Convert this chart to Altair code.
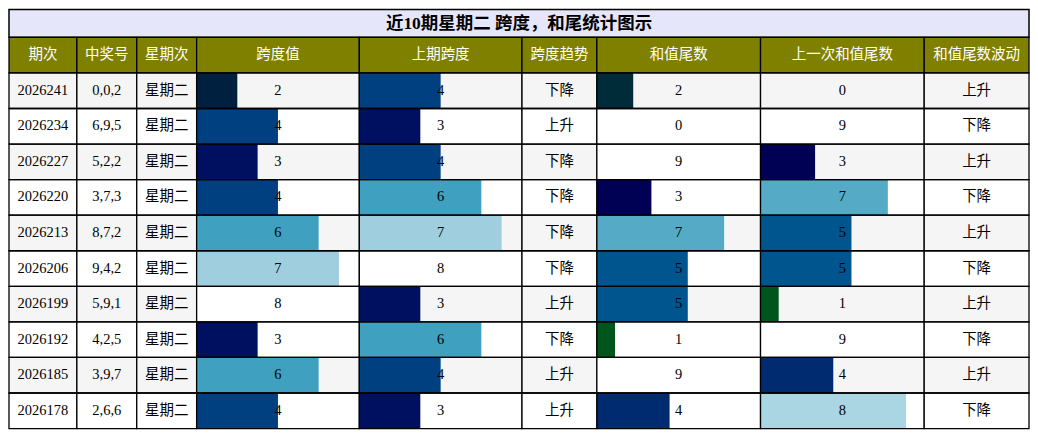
import altair as alt
import pandas as pd

title = "近10期星期二 跨度，和尾统计图示"
headers = ["期次", "中奖号", "星期次", "跨度值", "上期跨度", "跨度趋势", "和值尾数", "上一次和值尾数", "和值尾数波动"]
periods = ["2026241", "2026234", "2026227", "2026220", "2026213", "2026206", "2026199", "2026192", "2026185", "2026178"]
numbers = ["0,0,2", "6,9,5", "5,2,2", "3,7,3", "8,7,2", "9,4,2", "5,9,1", "4,2,5", "3,9,7", "2,6,6"]
weekdays = ["星期二"] * 10
span = [2, 4, 3, 4, 6, 7, 8, 3, 6, 4]
prev_span = [4, 3, 4, 6, 7, 8, 3, 6, 4, 3]
span_trend = ["下降", "上升", "下降", "下降", "下降", "下降", "上升", "下降", "上升", "上升"]
sum_tail = [2, 0, 9, 3, 7, 5, 5, 1, 9, 4]
prev_sum_tail = [0, 9, 3, 7, 5, 5, 1, 9, 4, 8]
sum_trend = ["上升", "下降", "上升", "下降", "上升", "下降", "上升", "下降", "上升", "下降"]

col_widths = [68, 60, 60, 163, 163, 75, 164, 164, 105]
TOTAL_W = sum(col_widths)
TITLE_H = 28
BODY_H = 392
FONT = "'Liberation Serif', 'Noto Sans CJK SC', serif"
CJK = "'Noto Sans CJK SC', 'Noto Sans', sans-serif"
OCEAN = ["#008000", "#000055", "#0080aa", "#ffffff"]

order = ["header"] + periods
yenc = alt.Y("row:N", scale=alt.Scale(domain=order, paddingInner=0, paddingOuter=0), axis=None)


def column(header, values, width, bar=False):
    labels = [str(v) for v in values]
    bg = ["#f5f5f5" if i % 2 == 0 else "#ffffff" for i in range(len(values))]
    df = pd.DataFrame({"row": periods, "label": labels, "bg": bg})
    hdr = pd.DataFrame({"row": ["header"], "label": [header]})
    allrows = pd.DataFrame({"row": order})

    hdr_bg = alt.Chart(hdr).mark_rect(fill="#808000").encode(
        y=yenc, x=alt.value(0), x2=alt.value(width))
    row_bg = alt.Chart(df).mark_rect().encode(
        y=yenc, x=alt.value(0), x2=alt.value(width),
        fill=alt.Fill("bg:N", scale=None))
    layers = [hdr_bg, row_bg]
    if bar:
        m = max(values)
        df["value"] = values
        bars = alt.Chart(df).mark_rect().encode(
            y=yenc,
            x=alt.X("value:Q", scale=alt.Scale(domain=[0, m], nice=False, zero=True), axis=None),
            x2=alt.datum(0),
            color=alt.Color("value:Q",
                            scale=alt.Scale(domain=[0, m / 3, 2 * m / 3, m], range=OCEAN, interpolate="rgb"),
                            legend=None),
        )
        layers.append(bars)
    txt = alt.Chart(df).mark_text(font=FONT, fontSize=14.5, color="black", baseline="middle").encode(
        y=yenc, x=alt.value(width / 2), text="label:N")
    htxt = alt.Chart(hdr).mark_text(font=CJK, fontSize=14.5, color="white", baseline="middle").encode(
        y=yenc, x=alt.value(width / 2), text="label:N")
    border = alt.Chart(allrows).mark_rect(fillOpacity=0, stroke="black", strokeWidth=1.3).encode(
        y=yenc, x=alt.value(0), x2=alt.value(width))
    layers += [txt, htxt, border]
    return alt.layer(*layers).properties(width=width, height=BODY_H)


cols_data = [
    (periods, False), (numbers, False), (weekdays, False),
    (span, True), (prev_span, True), (span_trend, False),
    (sum_tail, True), (prev_sum_tail, True), (sum_trend, False),
]
cols = [column(h, v, w, b) for h, (v, b), w in zip(headers, cols_data, col_widths)]
body = alt.hconcat(*cols, spacing=0, bounds="flush").resolve_scale(color="independent")

tdf = pd.DataFrame({"t": [title]})
title_bg = alt.Chart(tdf).mark_rect(fill="#e6e6fa", stroke="black", strokeWidth=1.5).encode(
    x=alt.value(0), x2=alt.value(TOTAL_W), y=alt.value(0), y2=alt.value(TITLE_H))
title_txt = alt.Chart(tdf).mark_text(font=FONT, fontSize=17.5, fontWeight="bold", color="black",
                                     baseline="middle").encode(
    x=alt.value(TOTAL_W / 2), y=alt.value(TITLE_H / 2 + 1), text="t:N")
title_chart = alt.layer(title_bg, title_txt).properties(width=TOTAL_W, height=TITLE_H)

chart = alt.vconcat(title_chart, body, spacing=0, bounds="flush").properties(padding=0).configure_view(stroke=None)

chart.save("out.html", embed_options={"renderer": "svg", "actions": False})
